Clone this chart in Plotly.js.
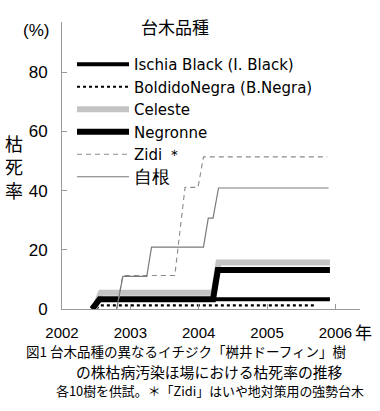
<!DOCTYPE html>
<html><head><meta charset="utf-8">
<script src="https://cdn.plot.ly/plotly-3.0.1.min.js"></script>
<style>body{margin:0;background:#fff}#c{width:380px;height:411px}</style>
</head><body><div id="c"></div>
<script>
// Data (year, % dead)
const ischiaX = [2002.44, 2002.55, 2005.92];
const ischiaY = [0, 3.3, 3.3];
const boldidoX = [2002.50, 2002.56, 2005.70];
const boldidoY = [0, 1.2, 1.2];
const celesteX = [2002.47, 2002.57, 2004.22, 2004.29, 2005.92];
const celesteY = [0, 5.5, 5.5, 15.7, 15.7];
const negronneX = [2002.44, 2002.55, 2004.21, 2004.28, 2005.92];
const negronneY = [0, 3.3, 3.3, 13.2, 13.2];
const zidiX = [2002.80, 2002.89, 2003.65, 2003.80, 2003.99, 2004.07, 2005.88];
const zidiY = [0, 11.3, 11.3, 41.1, 41.1, 51.4, 51.4];
const jikonX = [2002.80, 2002.89, 2003.24, 2003.31, 2004.07, 2004.14, 2004.21, 2004.29, 2005.90];
const jikonY = [0, 11.0, 11.0, 20.9, 20.9, 30.7, 30.7, 40.9, 40.9];
const names = ["Ischia Black (I. Black)", "BoldidoNegra (B.Negra)", "Celeste", "Negronne", "Zidi ＊", "自根"];
const xTicks = [2002, 2003, 2004, 2005, 2006];
const yTicks = [0, 20, 40, 60, 80];

const L = 62, R = 360, T = 22, B = 309, W = 380, H = 411;
const px = x => (x - L) / (R - L);
const py = y => (B - y) / (B - T);
const font = "Liberation Sans, Arial, sans-serif";
const jp = "Noto Sans CJK JP, sans-serif";

const traces = [
  {x: ischiaX, y: ischiaY, name: names[0], line: {color: "#000", width: 4}},
  {x: boldidoX, y: boldidoY, name: names[1], line: {color: "#000", width: 2.2, dash: "3px,3px"}},
  {x: celesteX, y: celesteY, name: names[2], line: {color: "#c4c4c4", width: 6}},
  {x: negronneX, y: negronneY, name: names[3], line: {color: "#000", width: 6}},
  {x: zidiX, y: zidiY, name: names[4], line: {color: "#8a8a8a", width: 1.1, dash: "5px,4px"}},
  {x: jikonX, y: jikonY, name: '<span style="font-size:18px">' + names[5] + '</span>', line: {color: "#7a7a7a", width: 1.2}}
].map(t => Object.assign({type: "scatter", mode: "lines", hoverinfo: "skip"}, t));

const ann = (text, x, y, size, xa, ya, f) => ({text, xref: "paper", yref: "paper", x: px(x), y: py(y),
  xanchor: xa || "center", yanchor: ya || "middle", showarrow: false, font: {size, family: f || jp, color: "#000"}});

const layout = {
  width: W, height: H,
  margin: {l: L, r: W - R, t: T, b: H - B, pad: 0},
  paper_bgcolor: "#fff", plot_bgcolor: "#fff",
  showlegend: true,
  legend: {x: px(72), y: py(48), xanchor: "left", yanchor: "top", bgcolor: "rgba(0,0,0,0)",
    font: {family: "DejaVu Sans, sans-serif", size: 15, color: "#000"}, itemwidth: 52, tracegroupgap: 0},
  xaxis: {range: [2002, 2006.36], tickvals: xTicks, ticktext: xTicks.map(String), ticks: "inside", ticklen: 5,
    tickcolor: "#999", showline: true, linecolor: "#999", linewidth: 1, showgrid: false, zeroline: false,
    tickfont: {family: font, size: 15, color: "#000"}, ticklabelstandoff: 10},
  yaxis: {range: [0, 97], tickvals: yTicks, ticks: "inside", ticklen: 5,
    tickcolor: "#999", showline: true, linecolor: "#999", linewidth: 1, showgrid: false, zeroline: false,
    tickfont: {family: font, size: 17, color: "#000"}, ticklabelstandoff: 10},
  annotations: [
    ann("台木品種", 175, 27, 17),
    ann("(%)", 36, 31, 17, "center", "middle", font),
    ann("枯<br>死<br>率", 14, 166, 18),
    ann("年", 353, 331, 17, "left"),
    ann("図1 台木品種の異なるイチジク「桝井ドーフィン」樹", 24, 351, 13.5, "left"),
    ann("の株枯病汚染ほ場における枯死率の推移", 74, 371, 14.8, "left"),
    ann("各10樹を供試。＊「Zidi」はいや地対策用の強勢台木", 54, 390, 12.9, "left")
  ]
};
Plotly.newPlot("c", traces, layout, {staticPlot: true, displayModeBar: false});
</script></body></html>
